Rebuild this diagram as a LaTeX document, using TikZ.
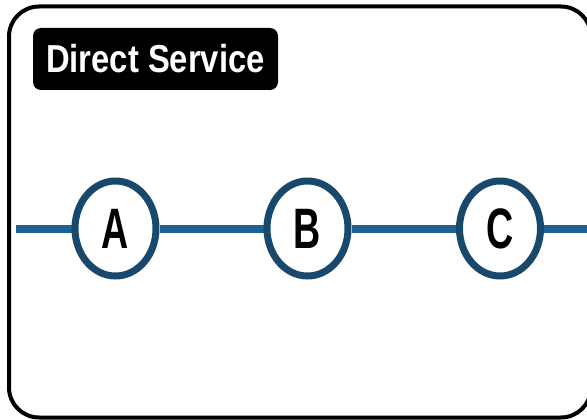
\documentclass[tikz,border=0pt]{standalone}
\usepackage{graphicx}
\usepackage{fontspec}
\setmainfont{Liberation Sans}
\usetikzlibrary{shapes.geometric,backgrounds}
\definecolor{routeblue}{RGB}{31,96,146}
\definecolor{stationblue}{RGB}{24,72,108}
\tikzset{
  station/.style={ellipse, draw=stationblue, line width=7pt, fill=white,
    minimum width=81pt, minimum height=95pt, inner sep=0pt,
    font=\bfseries\fontsize{57}{57}\selectfont},
  route/.style={routeblue, line width=8pt},
  titlebox/.style={fill=black, rounded corners=8pt, text=white,
    minimum width=245pt, minimum height=62pt, inner sep=0pt,
    font=\bfseries\fontsize{39}{39}\selectfont}
}

\begin{document}
\begin{tikzpicture}[x=1pt,y=-1pt]
\useasboundingbox (0,0) rectangle (587,420);
% outer frame
\draw[black, line width=4pt, rounded corners=30pt] (9,6.5) rectangle (591,417.5);
\node[titlebox] (title) at (155.5,59) {\scalebox{.84}[1]{Direct Service}};
% stops on the line
\foreach \name/\x in {A/115.5, B/307.5, C/500}
  \node[station] (\name) at (\x,228.5) {\scalebox{.66}[1]{\name}};
\coordinate (west) at (16,228.5);
\coordinate (east) at (592,228.5);
\begin{scope}[on background layer]
\draw[route] (west) -- (A) -- (B) -- (C) -- (east);
\end{scope}
\end{tikzpicture}
\end{document}
